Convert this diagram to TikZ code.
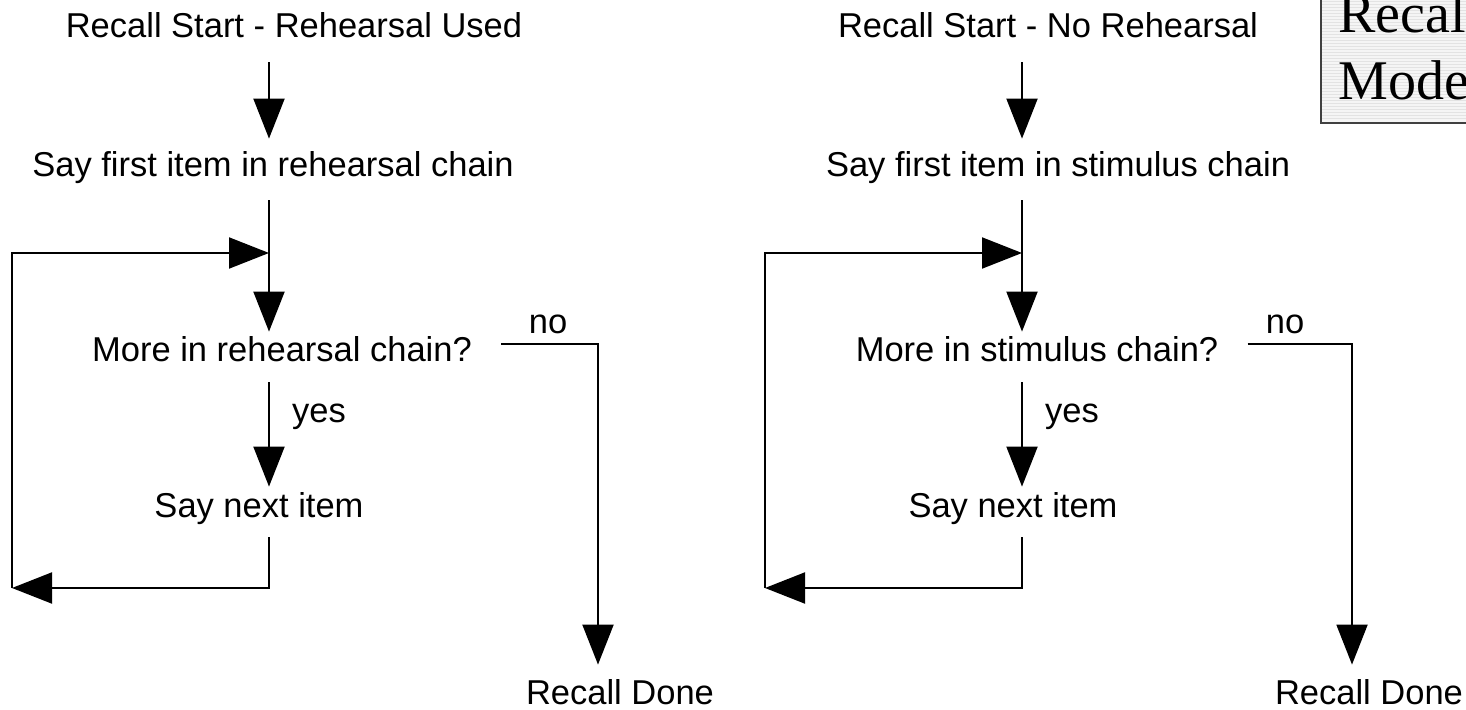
\documentclass[tikz,border=0pt]{standalone}
\usepackage{fontspec}
\newfontfamily\flowfont{Liberation Sans}
\newfontfamily\boxfont{Liberation Serif}
\usetikzlibrary{arrows.meta}

\begin{document}
\begin{tikzpicture}[
    x=0.5pt, y=-0.5pt,
    txt/.style={inner sep=0pt, anchor=base, text height=12.5pt, text depth=3.5pt, font=\flowfont\fontsize{17.25}{20}\selectfont},
    model/.style={inner sep=0pt, anchor=base west, font=\boxfont\fontsize{28}{34}\selectfont},
    arrow/.style={-{Triangle[length=20pt, width=15.5pt]}, line width=1pt},
    line/.style={line width=1pt}
]
\useasboundingbox (0,0) rectangle (1466,710);
\clip (0,0) rectangle (1466,710);

% Rehearsal used (left)
\node[txt] (start1) at (294,38) {Recall Start - Rehearsal Used};
\node[txt] (first1) at (273,177) {Say first item in rehearsal chain};
\node[txt] (more1) at (282,362) {More in rehearsal chain?};
\node[txt] (yes1) at (319,423) {yes};
\node[txt] (next1) at (259,517) {Say next item};
\node[txt] (no1) at (548,334) {no};
\node[txt, text depth=0pt] (done1) at (620,704) {Recall Done};
\coordinate (join1) at (269,253);
\coordinate (loop1) at (12,588);
\coordinate (turn1) at (598,344);

% Arrows for rehearsal used
\draw[arrow, shorten <=8.5pt, shorten >=6.5pt] (start1.south -| join1) -- (first1.north -| join1);
\draw[arrow, shorten <=8pt, shorten >=2.5pt] (first1.south -| join1) -- (more1.north -| join1);
\draw[arrow, shorten <=6.5pt, shorten >=2.5pt] (more1.south -| join1) -- (next1.north -| join1);
\draw[arrow, shorten <=6.5pt] (next1.south -| join1) -- (join1 |- loop1) -- (loop1);
\draw[arrow] (loop1) |- (join1);
\draw[arrow, shorten <=14.5pt, shorten >=7pt] (more1.east |- turn1) -- (turn1) -- (done1.north -| turn1);

% No rehearsal (right)
\node[txt] (start2) at (1048,38) {Recall Start - No Rehearsal};
\node[txt] (first2) at (1058,177) {Say first item in stimulus chain};
\node[txt] (more2) at (1037,362) {More in stimulus chain?};
\node[txt] (yes2) at (1072,423) {yes};
\node[txt] (next2) at (1013,517) {Say next item};
\node[txt] (no2) at (1285,334) {no};
\node[txt, text depth=0pt] (done2) at (1369,704) {Recall Done};
\coordinate (join2) at (1022,253);
\coordinate (loop2) at (765,588);
\coordinate (turn2) at (1352,344);

% Arrows for no rehearsal
\draw[arrow, shorten <=8.5pt, shorten >=6.5pt] (start2.south -| join2) -- (first2.north -| join2);
\draw[arrow, shorten <=8pt, shorten >=2.5pt] (first2.south -| join2) -- (more2.north -| join2);
\draw[arrow, shorten <=6.5pt, shorten >=2.5pt] (more2.south -| join2) -- (next2.north -| join2);
\draw[arrow, shorten <=6.5pt] (next2.south -| join2) -- (join2 |- loop2) -- (loop2);
\draw[arrow] (loop2) |- (join2);
\draw[arrow, shorten <=14.5pt, shorten >=7pt] (more2.east |- turn2) -- (turn2) -- (done2.north -| turn2);

% Model box, cut off by the edge
\fill[gray!8] (1321,-10) rectangle (1480,123);
\foreach \yy in {2,5,...,120}
    \draw[gray!22, line width=0.5pt] (1322,\yy) -- (1480,\yy);
\draw[line, black!75] (1321,-10) |- (1480,123);
\node[model] (model1) at (1338,33) {Recall};
\node[model] (model2) at (1338,100) {Model};

\end{tikzpicture}
\end{document}
